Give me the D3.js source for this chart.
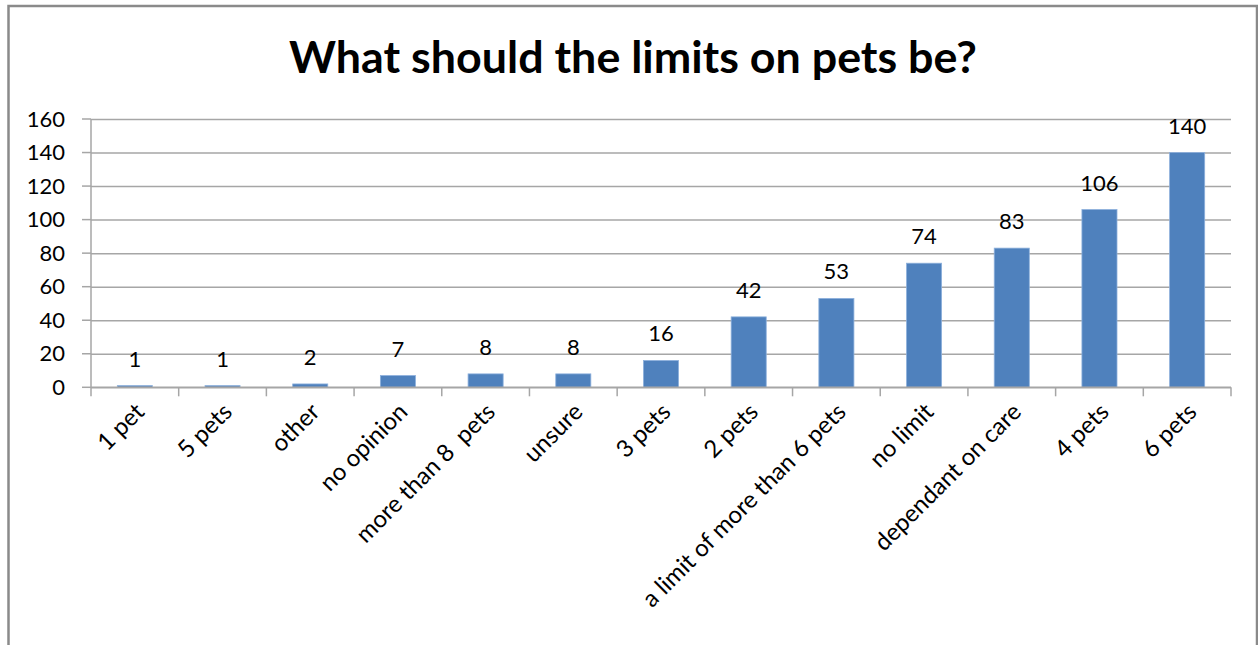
<!DOCTYPE html>
<html>
<head>
<meta charset="utf-8">
<script src="https://cdn.jsdelivr.net/npm/d3@7"></script>
<style>
  html, body { margin: 0; padding: 0; background: #fff; }
  svg { display: block; }
  text { font-family: Lato, "Open Sans", sans-serif; fill: #000; white-space: pre; }
</style>
</head>
<body>
<svg id="chart" width="1258" height="645"></svg>
<script>
// Survey responses: preferred limit on pets
const categories = ["1 pet", "5 pets", "other", "no opinion", "more than 8  pets", "unsure",
  "3 pets", "2 pets", "a limit of more than 6 pets", "no limit", "dependant on care", "4 pets", "6 pets"];
const counts = [1, 1, 2, 7, 8, 8, 16, 42, 53, 74, 83, 106, 140];
const yTicks = [0, 20, 40, 60, 80, 100, 120, 140, 160];
const chartTitle = "What should the limits on pets be?";

const W = 1258, H = 645;
const svg = d3.select("#chart");

// outer chart frame
svg.append("rect")
  .attr("x", 8.5).attr("y", 6).attr("width", W - 9.5).attr("height", H + 20)
  .attr("fill", "#fff").attr("stroke", "#8a8a8a").attr("stroke-width", 2.5);

const plot = { left: 91, right: 1231, top: 119, bottom: 387.3 };

const x = d3.scaleBand().domain(categories).range([plot.left, plot.right]).paddingInner(0.6).paddingOuter(0.3);
const xBounds = d3.scaleBand().domain(categories).range([plot.left, plot.right]);
const y = d3.scaleLinear().domain([0, 160]).range([plot.bottom, plot.top]);

// title
const title = svg.append("text")
  .attr("x", 633).attr("y", 73)
  .attr("text-anchor", "middle")
  .style("font-weight", "bold")
  .style("font-size", "42px")
  .text(chartTitle);
const tw = title.node().getComputedTextLength();
title.style("font-size", (42 * 688 / tw) + "px");

// horizontal gridlines + y axis labels
const yAxis = d3.axisLeft(y).tickValues(yTicks).tickSize(plot.right - plot.left).tickSizeOuter(0);
const gy = svg.append("g").attr("transform", `translate(${plot.right},0)`).call(yAxis);
gy.select(".domain").remove();
gy.selectAll(".tick line").attr("stroke", "#a6a6a6").attr("stroke-width", 1.5);
gy.selectAll(".tick text").style("font-size", "22px").attr("fill", "#000")
  .attr("x", -(plot.right - plot.left) - 26);
// short outer tick marks left of the axis
svg.append("g").selectAll("line").data(yTicks).join("line")
  .attr("x1", plot.left - 9).attr("x2", plot.left)
  .attr("y1", d => y(d)).attr("y2", d => y(d))
  .attr("stroke", "#a6a6a6").attr("stroke-width", 1.5);

// vertical axis line
svg.append("line")
  .attr("x1", plot.left).attr("x2", plot.left)
  .attr("y1", y(160)).attr("y2", plot.bottom)
  .attr("stroke", "#a6a6a6").attr("stroke-width", 1.5);

// bars
svg.append("g").selectAll("rect").data(counts).join("rect")
  .attr("x", (d, i) => x(categories[i]))
  .attr("width", x.bandwidth())
  .attr("y", d => y(d))
  .attr("height", d => y(0) - y(d))
  .attr("fill", "#4f81bd")
  .attr("stroke", "#8db0dc").attr("stroke-width", 0.8);

// category axis with tick marks at band edges
const edges = categories.map(c => xBounds(c)).concat([plot.right]);
svg.append("line")
  .attr("x1", plot.left).attr("x2", plot.right)
  .attr("y1", plot.bottom).attr("y2", plot.bottom)
  .attr("stroke", "#a6a6a6").attr("stroke-width", 1.5);
svg.append("g").selectAll("line").data(edges).join("line")
  .attr("x1", d => d).attr("x2", d => d)
  .attr("y1", plot.bottom).attr("y2", plot.bottom + 9)
  .attr("stroke", "#a6a6a6").attr("stroke-width", 1.5);

// value labels
svg.append("g").selectAll("text").data(counts).join("text")
  .attr("x", (d, i) => x(categories[i]) + x.bandwidth() / 2)
  .attr("y", d => y(d) - 19)
  .attr("text-anchor", "middle")
  .style("font-size", "22px")
  .text(d => d);

// rotated category labels
svg.append("g").selectAll("text").data(categories).join("text")
  .attr("transform", c => `translate(${x(c) + x.bandwidth() / 2 + 11},${plot.bottom + 26}) rotate(-45)`)
  .attr("text-anchor", "end")
  .style("font-size", "24px")
  .text(c => c);
</script>
</body>
</html>
